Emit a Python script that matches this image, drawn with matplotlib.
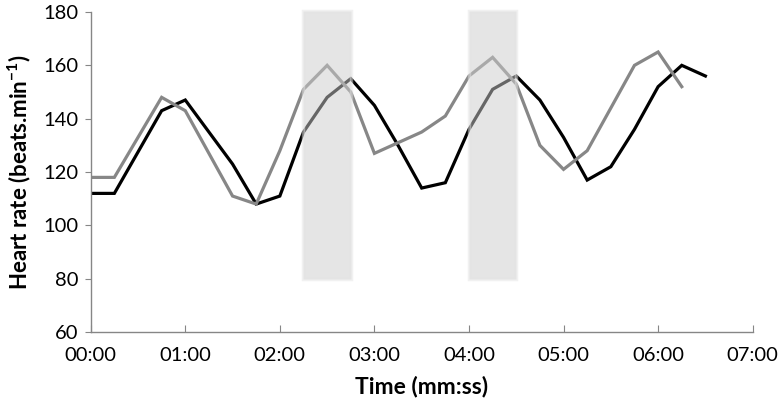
import matplotlib
matplotlib.use('Agg')
import matplotlib.pyplot as plt
from matplotlib.patches import Rectangle

plt.rcParams['font.family'] = ['Lato', 'DejaVu Sans']
plt.rcParams['mathtext.fontset'] = 'custom'
plt.rcParams['mathtext.rm'] = 'Lato'
plt.rcParams['mathtext.bf'] = 'Lato:bold'

# time in minutes, 15 s steps
time_black = [i * 0.25 for i in range(27)]
hr_black = [112, 112, 127.5, 143, 147, 135, 123, 108, 111, 135, 148, 155, 145, 130,
            114, 116, 136, 151, 156, 147, 133, 117, 122, 136, 152, 160, 156]
time_gray = [i * 0.25 for i in range(26)]
hr_gray = [118, 118, 133, 148, 143, 127, 111, 108, 128, 151, 160, 150, 127, 131,
           135, 141, 156, 163, 153, 130, 121, 128, 144, 160, 165, 152]

# shaded periods (start, end in minutes), heart-rate span
shade_periods = [(2.25, 2.75), (4.0, 4.5)]
shade_low, shade_high = 80, 180.5

x_ticks = list(range(0, 8))
x_labels = ['%02d:00' % m for m in x_ticks]
y_ticks = [60, 80, 100, 120, 140, 160, 180]

fig = plt.figure(figsize=(7.82, 4.09), dpi=100)
ax = fig.add_axes([0.116, 0.188, 0.8465, 0.7827])

ax.plot(time_black, hr_black, color='black', linewidth=2.3, solid_joinstyle='miter', zorder=2)
ax.plot(time_gray, hr_gray, color='#878787', linewidth=2.3, solid_joinstyle='miter', zorder=2)

for start, end in shade_periods:
    ax.add_patch(Rectangle((start, shade_low), end - start, shade_high - shade_low,
                           facecolor='#cccccc', edgecolor='#e4e4e4', linewidth=2.5,
                           alpha=0.5, zorder=3, clip_on=False))

ax.set_xlim(0, 7)
ax.set_ylim(60, 180)
ax.set_xticks(x_ticks)
ax.set_xticklabels(x_labels)
ax.set_yticks(y_ticks)

for side in ['top', 'right']:
    ax.spines[side].set_visible(False)
for side in ['left', 'bottom']:
    ax.spines[side].set_color('#868686')
    ax.spines[side].set_linewidth(1.0)

ax.tick_params(axis='x', direction='in', length=5, color='#868686', labelsize=14.5, pad=11)
ax.tick_params(axis='y', direction='out', length=4, color='#868686', labelsize=14.5, pad=5)

ax.set_xlabel('Time (mm:ss)', fontsize=16.5, fontweight='bold', labelpad=8)
ax.set_ylabel(r'Heart rate (beats.min$^{\mathbf{-1}}$)', fontsize=16, fontweight='bold', labelpad=7)

fig.savefig('out.png', dpi=100)
